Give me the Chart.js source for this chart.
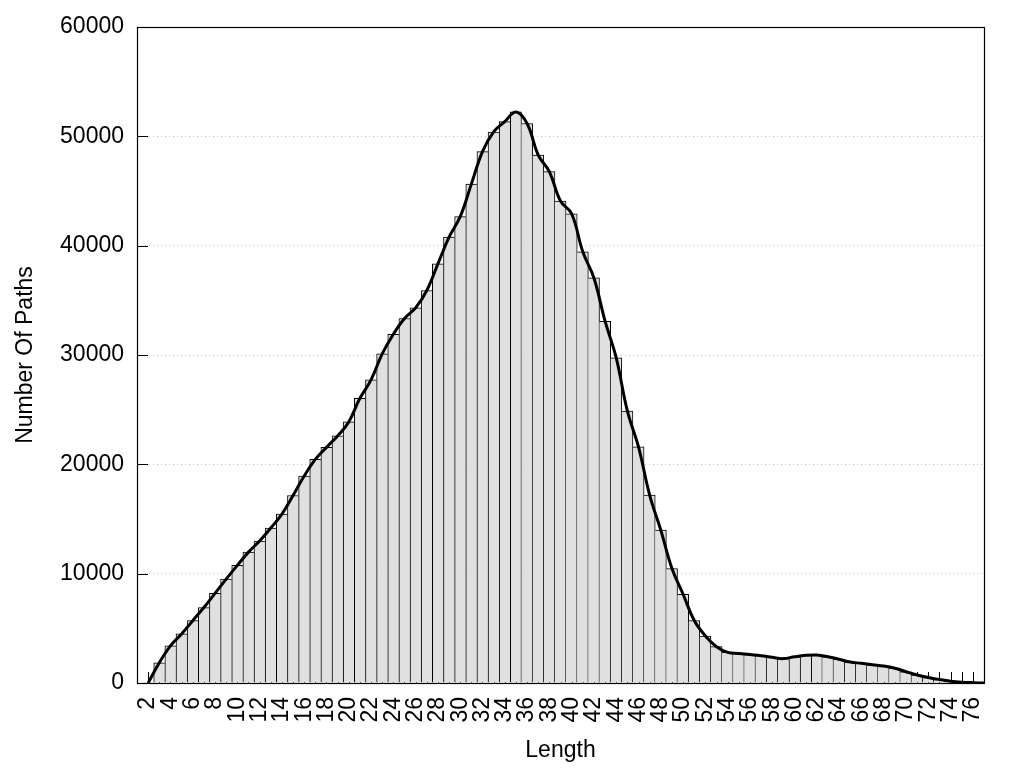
<!DOCTYPE html>
<html>
<head>
<meta charset="utf-8">
<title>Number Of Paths by Length</title>
<script src="https://cdn.jsdelivr.net/npm/chart.js@4.4.0/dist/chart.umd.min.js"></script>
<style>
  html, body { margin: 0; padding: 0; background: #fff; }
  #wrap { width: 1024px; height: 768px; }
</style>
</head>
<body>
<div id="wrap"><canvas id="chart" width="1024" height="768"></canvas></div>
<script>
/* Path length histogram: boxed bars plus a smoothed curve over them. */

// ---- Data ----
const lengths = [
  1, 2, 3, 4, 5, 6, 7, 8, 9, 10, 11, 12, 13, 14, 15, 16, 17, 18, 19, 20,
  21, 22, 23, 24, 25, 26, 27, 28, 29, 30, 31, 32, 33, 34, 35, 36, 37, 38, 39, 40,
  41, 42, 43, 44, 45, 46, 47, 48, 49, 50, 51, 52, 53, 54, 55, 56, 57, 58, 59, 60,
  61, 62, 63, 64, 65, 66, 67, 68, 69, 70, 71, 72, 73, 74, 75, 76, 77
];
const pathCounts = [
  null, 0, 1850, 3390, 4490, 5700, 6900, 8200, 9500, 10760,
  11970, 12980, 14170, 15450, 17150, 18930, 20450, 21550, 22600, 23880,
  26040, 27720, 30100, 31900, 33340, 34310, 35900, 38340, 40780, 42650,
  45630, 48600, 50400, 51350, 52230, 51170, 48290, 46770, 44080, 42920,
  39440, 37050, 33090, 29740, 24880, 21590, 17190, 13980, 10470, 8120,
  5710, 4300, 3320, 2800, 2700, 2600, 2500, 2350, 2230, 2400,
  2530, 2560, 2400, 2170, 1920, 1800, 1670, 1550, 1350, 1030,
  730, 500, 320, 170, 80, 30, 0
];
const yTicks = [0, 10000, 20000, 30000, 40000, 50000, 60000];

const FONT = "'Liberation Sans', Arial, sans-serif";

// ---- Bar edges: each shared edge is drawn once, by the taller bar ----
function barBorder(ctx) {
  const d = ctx.dataset.data;
  const i = ctx.dataIndex;
  const v = d[i] || 0;
  if (v === 0) return 0;
  const prev = d[i - 1] || 0;
  const next = d[i + 1] || 0;
  return { top: 1, bottom: 0, left: v > prev ? 1 : 0, right: v >= next ? 1 : 0 };
}

// ---- Frame and inward tick marks (gnuplot look) ----
const framePlugin = {
  id: 'frame',
  beforeDatasetsDraw(chart) {
    const { ctx, chartArea: a, scales: { x, y } } = chart;
    ctx.save();
    ctx.strokeStyle = '#000';
    ctx.lineWidth = 1;
    ctx.beginPath();
    lengths.forEach((_, i) => {
      const px = Math.round(x.getPixelForValue(i)) + 0.5;
      ctx.moveTo(px, a.bottom);
      ctx.lineTo(px, a.bottom - 11);
    });
    yTicks.forEach(v => {
      const py = Math.round(y.getPixelForValue(v)) + 0.5;
      ctx.moveTo(a.left, py);
      ctx.lineTo(a.left + 11, py);
    });
    ctx.stroke();
    ctx.restore();
  },
  afterDraw(chart) {
    const { ctx, chartArea: a } = chart;
    ctx.save();
    ctx.strokeStyle = '#000';
    ctx.lineWidth = 1.2;
    ctx.strokeRect(Math.round(a.left) + 0.5, Math.round(a.top) + 0.5,
      Math.round(a.right - a.left), Math.round(a.bottom - a.top));
    ctx.restore();
  }
};

// ---- Chart ----
new Chart(document.getElementById('chart'), {
  data: {
    labels: lengths,
    datasets: [
      {
        type: 'line',
        data: pathCounts,
        borderColor: '#000',
        borderWidth: 3,
        pointRadius: 0,
        tension: 0.4,
        fill: false,
        order: 0
      },
      {
        type: 'bar',
        data: pathCounts,
        backgroundColor: '#e0e0e0',
        borderColor: '#000',
        borderWidth: barBorder,
        borderSkipped: false,
        categoryPercentage: 1,
        barPercentage: 1,
        order: 1
      }
    ]
  },
  options: {
    responsive: false,
    animation: false,
    layout: { padding: { top: 27, right: 40, bottom: 0, left: 0 } },
    plugins: { legend: { display: false }, tooltip: { enabled: false } },
    scales: {
      x: {
        type: 'category',
        offset: false,
        grid: { display: false, drawTicks: false },
        border: { display: false },
        ticks: {
          autoSkip: false,
          minRotation: 90,
          maxRotation: 90,
          padding: 14,
          color: '#000',
          font: { family: FONT, size: 23 },
          callback(value) {
            const n = lengths[value];
            return n % 2 === 0 ? String(n) : '';
          }
        },
        title: {
          display: true,
          text: 'Length',
          color: '#000',
          font: { family: FONT, size: 23 },
          padding: { top: 0, bottom: 4 }
        },
        afterFit(scale) {
          scale.height = 85;
          scale.paddingLeft = 0;
          scale.paddingRight = 0;
        }
      },
      y: {
        min: 0,
        max: 60000,
        grid: {
          color: ctx => (ctx.tick.value === 0 || ctx.tick.value === 60000) ? 'rgba(0,0,0,0)' : '#c4c4c4',
          lineWidth: 1,
          drawTicks: false
        },
        border: { display: false, dash: [1, 3] },
        afterBuildTicks(scale) { scale.ticks = yTicks.map(v => ({ value: v })); },
        ticks: {
          padding: 13,
          color: '#000',
          font: { family: FONT, size: 23 },
          callback: v => String(v)
        },
        title: {
          display: true,
          text: 'Number Of Paths',
          color: '#000',
          font: { family: FONT, size: 23 },
          padding: { top: 12, bottom: 0 }
        },
        afterFit(scale) { scale.width = 137; }
      }
    }
  },
  plugins: [framePlugin]
});
</script>
</body>
</html>
